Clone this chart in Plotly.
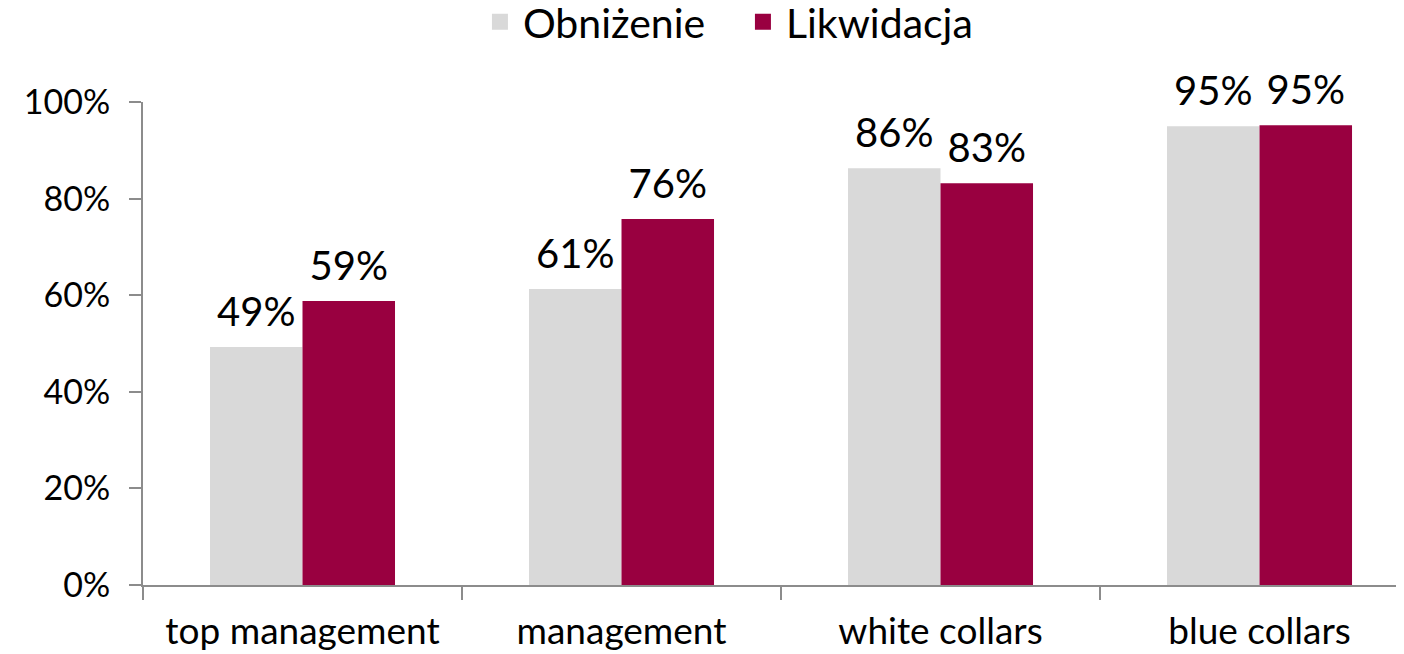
import plotly.graph_objects as go

categories = ["top management", "management", "white collars", "blue collars"]
series_names = ["Obniżenie", "Likwidacja"]
obnizenie = [49.3, 61.3, 86.3, 95.0]
likwidacja = [58.8, 75.8, 83.2, 95.2]
y_ticks = [0, 20, 40, 60, 80, 100]
y_tick_labels = ["0%", "20%", "40%", "60%", "80%", "100%"]
colors = ["#D9D9D9", "#990040"]
groups = ["g1", "g2"]

FONT = "Lato, 'Open Sans', sans-serif"

fig = go.Figure()
for name, vals, col, g in zip(series_names, [obnizenie, likwidacja], colors, groups):
    fig.add_trace(go.Bar(
        name=name, x=categories, y=vals, offsetgroup=g,
        marker=dict(color=col, line=dict(width=0)),
        showlegend=False, hoverinfo="skip",
    ))
# data labels, grouped like the bars
for name, vals, g in zip(series_names, [obnizenie, likwidacja], groups):
    fig.add_trace(go.Scatter(
        name=name, x=categories, y=vals, mode="markers+text", offsetgroup=g,
        marker=dict(size=16, opacity=0),
        text=[f"{v:.0f}%" for v in vals], textposition="top center",
        textfont=dict(size=40, color="#000000", family=FONT),
        cliponaxis=False, showlegend=False, hoverinfo="skip",
    ))
# legend entries
for name, col, g in zip(series_names, colors, groups):
    fig.add_trace(go.Scatter(
        name=name, x=[None], y=[None], mode="markers", offsetgroup=g,
        marker=dict(symbol="square", size=22, color=col),
        showlegend=True,
    ))

fig.update_layout(
    width=1404, height=654,
    barmode="group", bargap=0.42, bargroupgap=0,
    scattermode="group", scattergap=0.42,
    plot_bgcolor="white", paper_bgcolor="white",
    font=dict(family=FONT, size=34, color="#000000"),
    margin=dict(l=135, r=0, t=94, b=77, autoexpand=False),
    showlegend=True,
    legend=dict(orientation="h", x=0.334, xanchor="left", xref="container",
                y=1.1655, yanchor="middle", yref="paper",
                font=dict(size=41), itemwidth=36, traceorder="normal",
                itemsizing="trace", entrywidth=212, entrywidthmode="pixels"),
)
fig.update_xaxes(
    type="category", range=[-0.5, 3.478],
    showline=True, linecolor="#8C8C8C", linewidth=2,
    ticks="outside", tickson="boundaries", ticklen=13, tickcolor="#8C8C8C", tickwidth=2,
    showgrid=False, zeroline=False, tickfont=dict(size=37), automargin=False,
    ticklabelstandoff=13,
)
fig.update_yaxes(
    range=[0, 100], tickvals=y_ticks, ticktext=y_tick_labels,
    showline=True, linecolor="#8C8C8C", linewidth=2,
    ticks="outside", ticklen=12, tickcolor="#8C8C8C", tickwidth=2,
    showgrid=False, zeroline=False, tickfont=dict(size=34), automargin=False,
    ticklabelstandoff=12,
)

fig.write_html("out.html")
